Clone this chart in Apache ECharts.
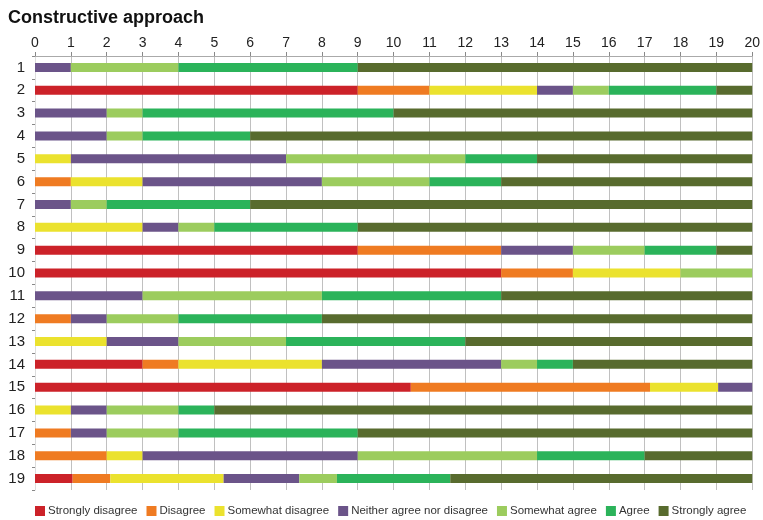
<!DOCTYPE html>
<html><head><meta charset="utf-8">
<script src="https://cdn.jsdelivr.net/npm/echarts@6/dist/echarts.min.js"></script>
<style>html,body{margin:0;padding:0;background:#fff}#c{width:763px;height:520px}</style>
</head><body><div id="c"></div>
<script>
const categories = ['1','2','3','4','5','6','7','8','9','10','11','12','13','14','15','16','17','18','19'];
const seriesNames = ['Strongly disagree','Disagree','Somewhat disagree','Neither agree nor disagree','Somewhat agree','Agree','Strongly agree'];
const stronglyDisagree = [0,9,0,0,0,0,0,0,9,13,0,0,0,3,10.48,0,0,0,1.05];
const disagree         = [0,2,0,0,0,1,0,0,4,2,0,1,0,1,6.67,0,1,2,1.05];
const somewhatDisagree = [0,3,0,0,1,2,0,3,0,3,0,0,2,4,1.9,1,0,1,3.16];
const neither          = [1,1,2,2,6,5,1,1,2,0,3,1,2,5,0.95,1,1,6,2.11];
const somewhatAgree    = [3,1,1,1,5,3,1,1,2,2,5,2,3,1,0,2,2,5,1.05];
const agree            = [5,3,7,3,2,2,4,4,2,0,5,4,5,1,0,1,5,3,3.16];
const stronglyAgree    = [11,1,10,14,6,7,14,11,1,0,7,12,8,5,0,15,11,3,8.42];
const xTicks = [0,1,2,3,4,5,6,7,8,9,10,11,12,13,14,15,16,17,18,19,20];
const colors = ['#cc2229','#ef7b22','#ebe22e','#6b5489','#9ccc5e','#2bb35a','#586b2e'];
const allData = [stronglyDisagree,disagree,somewhatDisagree,neither,somewhatAgree,agree,stronglyAgree];

const chart = echarts.init(document.getElementById('c'), null, {renderer:'canvas'});
const font = 'Liberation Sans, Arial, Helvetica, sans-serif';
chart.setOption({
  animation:false,
  color: colors,
  textStyle:{fontFamily:font},
  title:{text:'Constructive approach', left:3, top:4,
    textStyle:{fontFamily:font, fontWeight:'bold', fontSize:18, color:'#111'}},
  grid:{left:35, right:10, top:56, bottom:30, containLabel:false},
  legend:{top:505, left:35, right:0, padding:0, icon:'rect', itemWidth:10, itemHeight:10, itemGap:9,
    textStyle:{fontFamily:font, fontSize:11.5, color:'#333', padding:[0,0,0,-2]},
    data: seriesNames},
  xAxis:{type:'value', position:'top', min:xTicks[0], max:xTicks[xTicks.length-1], interval:1,
    axisLine:{show:true, lineStyle:{color:'#aaa'}},
    axisTick:{show:true, inside:false, length:4, lineStyle:{color:'#888'}},
    axisLabel:{fontFamily:font, fontSize:14, color:'#222', margin:6},
    splitLine:{show:true, lineStyle:{color:'#c0c0c0', width:1}}},
  yAxis:{type:'category', inverse:true, data:categories,
    axisLine:{show:true, lineStyle:{color:'#ddd'}},
    axisTick:{show:true, length:3, lineStyle:{color:'#888'}},
    axisLabel:{fontFamily:font, fontSize:15, color:'#222', margin:10}},
  series: seriesNames.map((n,i)=>({
    name:n, type:'bar', stack:'total', barWidth:9,
    data: allData[i],
    itemStyle:{color:colors[i]}
  }))
});
</script></body></html>
